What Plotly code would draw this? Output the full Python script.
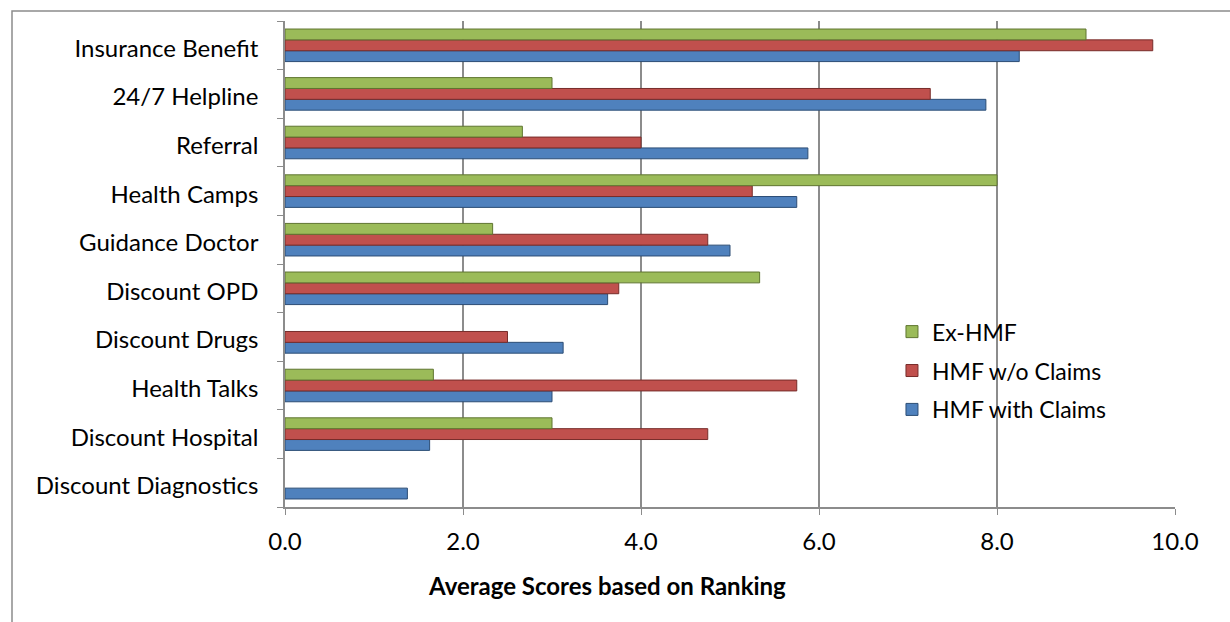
import plotly.graph_objects as go

# Categories listed bottom-to-top
categories = ["Discount Diagnostics", "Discount Hospital", "Health Talks", "Discount Drugs",
              "Discount OPD", "Guidance Doctor", "Health Camps", "Referral",
              "24/7 Helpline", "Insurance Benefit"]
hmf_with_claims = [1.375, 1.625, 3.0, 3.125, 3.625, 5.0, 5.75, 5.875, 7.875, 8.25]
hmf_wo_claims = [None, 4.75, 5.75, 2.5, 3.75, 4.75, 5.25, 4.0, 7.25, 9.75]
ex_hmf = [None, 3.0, 1.667, None, 5.333, 2.333, 8.0, 2.667, 3.0, 9.0]
x_ticks = [0, 2, 4, 6, 8, 10]
x_tick_text = ["0.0", "2.0", "4.0", "6.0", "8.0", "10.0"]
x_title = "Average Scores based on Ranking"

FONT = "Lato, 'Open Sans', sans-serif"

fig = go.Figure()
series = [
    ("HMF with Claims", hmf_with_claims, "#4F81BD", "#2C4D75", 3),
    ("HMF w/o Claims", hmf_wo_claims, "#C0504D", "#772C2A", 2),
    ("Ex-HMF", ex_hmf, "#9BBB59", "#5F7530", 1),
]
for name, vals, col, edge, rank in series:
    fig.add_trace(go.Bar(
        y=categories, x=vals, name=name, orientation="h", legendgroup=name,
        legendrank=rank,
        marker=dict(color=col, line=dict(color=edge, width=1)),
    ))

fig.update_layout(
    width=1230, height=622,
    margin=dict(l=285, r=55, t=21, b=115),
    paper_bgcolor="white", plot_bgcolor="white",
    barmode="group", bargap=0.33, bargroupgap=0,
    font=dict(family=FONT, size=24, color="black"),
    showlegend=True,
    legend=dict(x=0.682, y=0.405, xanchor="left", yanchor="top",
                traceorder="grouped", font=dict(size=23),
                itemwidth=30, tracegroupgap=6, bgcolor="rgba(0,0,0,0)"),
    xaxis=dict(range=[0, 10], tickvals=x_ticks, ticktext=x_tick_text,
               showgrid=True, gridcolor="#8C8C8C", gridwidth=1.5,
               showline=True, linecolor="#8C8C8C", linewidth=1.5,
               ticks="outside", ticklen=6, tickcolor="#8C8C8C",
               tickfont=dict(size=24), zeroline=False, ticklabelstandoff=6),
    yaxis=dict(type="category", categoryorder="array", categoryarray=categories,
               showline=True, linecolor="#8C8C8C", linewidth=1.5,
               ticks="outside", ticklen=6, tickcolor="#8C8C8C", tickson="boundaries",
               showgrid=False, tickfont=dict(size=24), ticklabelstandoff=20,
               ticklabelshift=3),
    annotations=[dict(text="<b>" + x_title + "</b>", xref="paper", yref="paper",
                      x=(607 - 285) / 890, y=(507 - 585) / 486,
                      xanchor="center", yanchor="middle", showarrow=False,
                      font=dict(size=24))],
    shapes=[dict(type="rect", xref="paper", yref="paper",
                 x0=(12 - 285) / 890, x1=(1240 - 285) / 890,
                 y0=(507 - 640) / 486, y1=(507 - 11) / 486,
                 line=dict(color="#8C8C8C", width=1.5), fillcolor="rgba(0,0,0,0)",
                 layer="below")],
)

fig.write_html("out.html")
